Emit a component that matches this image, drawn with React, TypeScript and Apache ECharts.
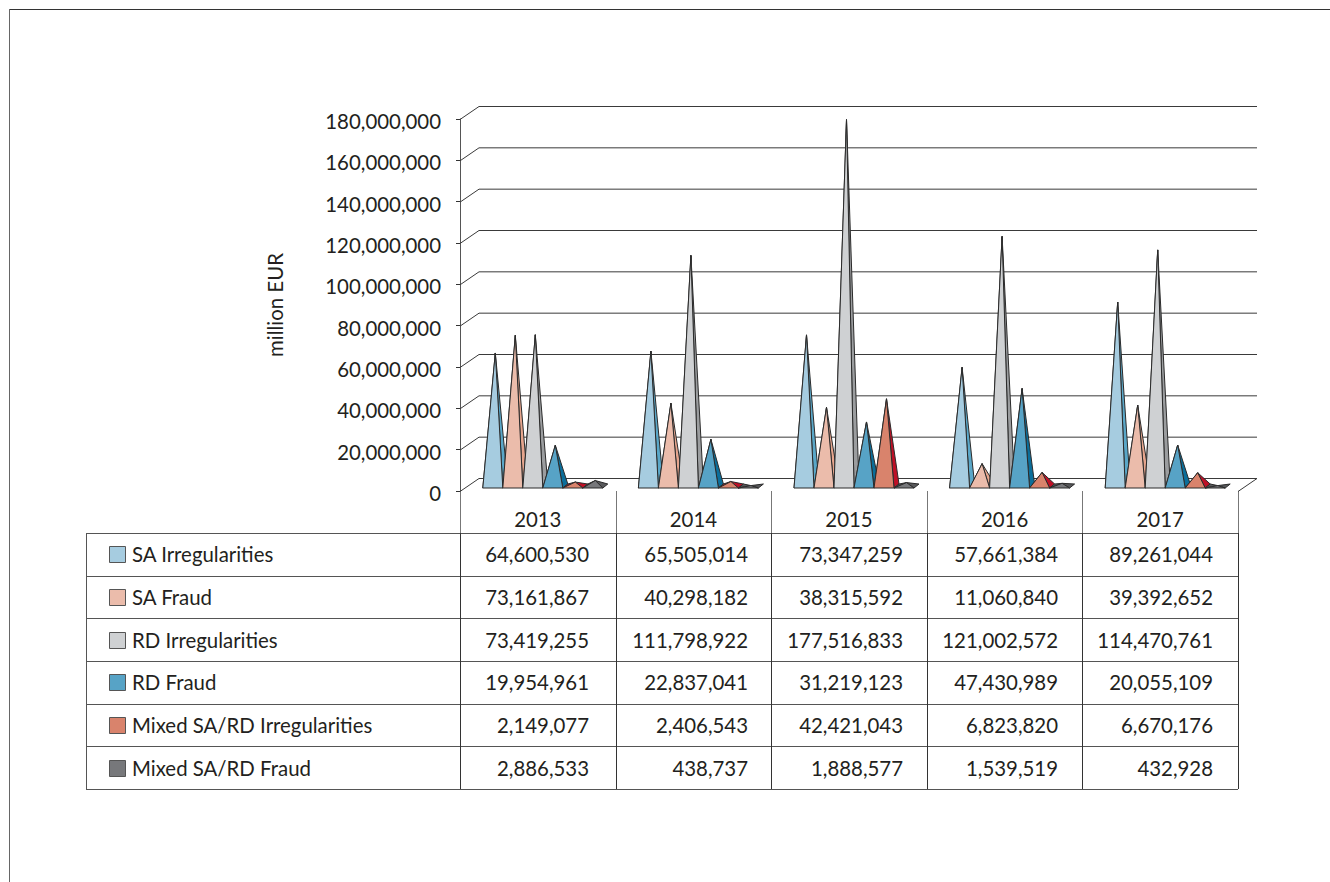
import React, { useEffect, useRef } from "react";
import * as echarts from "echarts";

const years = ["2013", "2014", "2015", "2016", "2017"];
const seriesNames = [
  "SA Irregularities",
  "SA Fraud",
  "RD Irregularities",
  "RD Fraud",
  "Mixed SA/RD Irregularities",
  "Mixed SA/RD Fraud",
];
const saIrregularities = [64600530, 65505014, 73347259, 57661384, 89261044];
const saFraud = [73161867, 40298182, 38315592, 11060840, 39392652];
const rdIrregularities = [73419255, 111798922, 177516833, 121002572, 114470761];
const rdFraud = [19954961, 22837041, 31219123, 47430989, 20055109];
const mixedIrregularities = [2149077, 2406543, 42421043, 6823820, 6670176];
const mixedFraud = [2886533, 438737, 1888577, 1539519, 432928];
const seriesValues = [
  saIrregularities,
  saFraud,
  rdIrregularities,
  rdFraud,
  mixedIrregularities,
  mixedFraud,
];
const axisTicks = [0, 20e6, 40e6, 60e6, 80e6, 100e6, 120e6, 140e6, 160e6, 180e6];

const frontColors = ["#A6CCE0", "#EBBCAB", "#CFD1D3", "#57A3C6", "#D9836C", "#77787B"];
const sideColors = ["#5AA7C8", "#E6A58D", "#9B9D9F", "#0B6E9A", "#BE1026", "#58595B"];

// Plot frame and the oblique depth of the walls, in pixels.
const plotLeft = 460;
const plotRight = 1238;
const plotTop = 119;
const plotBottom = 491;
const wallDx = 19;
const wallDy = 13;

// Data table below the plot.
const tableLeft = 86;
const tableBottom = 789;
const headerBottom = 533;
const rowHeight = (tableBottom - headerBottom) / seriesNames.length;
const colWidth = (plotRight - plotLeft) / years.length;
const valueRightEdges = [589, 748, 903, 1058, 1213];

const TEXT = "#231F20";
const FONT_SIZE = 20.4;
const FONT = `${FONT_SIZE}px Lato`;
const fmt = (v: number) => v.toLocaleString("en-US");

function tableGraphics() {
  const els: any[] = [];
  const line = (x1: number, y1: number, x2: number, y2: number, stroke: string) =>
    els.push({
      type: "line",
      silent: true,
      shape: { x1, y1, x2, y2 },
      style: { stroke, lineWidth: 1 },
    });

  // Outer frame: top and left edges only.
  line(9.5, 9.5, 1330, 9.5, "#333333");
  line(9.5, 9, 9.5, 882, "#666666");

  for (let r = 0; r <= seriesNames.length; r++) {
    const y = Math.round(headerBottom + r * rowHeight) + 0.5;
    line(tableLeft, y, plotRight, y, "#555555");
  }
  line(tableLeft + 0.5, headerBottom, tableLeft + 0.5, tableBottom, "#555555");
  for (let c = 0; c <= years.length; c++) {
    const x = Math.round(plotLeft + c * colWidth) + 0.5;
    line(x, plotBottom, x, headerBottom, "#777777");
    line(x, headerBottom, x, tableBottom, "#333333");
  }

  seriesNames.forEach((name, r) => {
    const cy = headerBottom + (r + 0.5) * rowHeight;
    els.push({
      type: "rect",
      silent: true,
      shape: { x: 109.5, y: Math.round(cy) - 7.5, width: 16, height: 16 },
      style: { fill: frontColors[r], stroke: "#555555", lineWidth: 1 },
    });
    els.push({
      type: "text",
      silent: true,
      style: {
        text: name,
        x: 132,
        y: cy,
        font: FONT,
        fill: TEXT,
        align: "left",
        verticalAlign: "middle",
      },
    });
    seriesValues[r].forEach((v, c) => {
      els.push({
        type: "text",
        silent: true,
        style: {
          text: fmt(v),
          x: valueRightEdges[c],
          y: cy,
          font: FONT,
          fill: TEXT,
          align: "right",
          verticalAlign: "middle",
        },
      });
    });
  });
  return els;
}

// Gridlines bent across the side wall and running along the back wall.
function renderWallLine(_params: any, api: any) {
  const value = api.value(0);
  const [x0, y] = api.coord([0, value]);
  const left = x0 - colWidth / 2;
  const children: any[] = [
    {
      type: "polyline",
      shape: {
        points: [
          [left, y + 0.5],
          [left + wallDx, y - wallDy + 0.5],
          [left + (plotRight - plotLeft) + wallDx, y - wallDy + 0.5],
        ],
      },
      style: { fill: "none", stroke: "#3A3A3A", lineWidth: 1 },
    },
  ];
  if (value === 0) {
    children.push({
      type: "line",
      shape: {
        x1: plotRight,
        y1: y + 0.5,
        x2: plotRight + wallDx,
        y2: y - wallDy + 0.5,
      },
      style: { stroke: "#3A3A3A", lineWidth: 1 },
    });
  }
  return { type: "group", silent: true, children };
}

// One pyramid per value: hidden left face, lit right face, front face.
function renderPyramid(seriesIndex: number) {
  return (_params: any, api: any) => {
    const idx = api.value(0);
    const val = api.value(1);
    const [cx, zeroY] = api.coord([idx, 0]);
    const apexY = api.coord([idx, val])[1] - 4.5;
    const w = 20;
    const depthX = 5;
    const depthY = 4;
    const xl = cx + depthX - 3 * w + seriesIndex * w;
    const xr = xl + w;
    const yf = zeroY - 3;
    const yb = yf - depthY;
    const apex = [(xl + xr) / 2 + depthX / 2, apexY];
    const stroke = { stroke: "#2B2B2B", lineWidth: 1, lineJoin: "round" };
    const face = (points: number[][], fill: string) => ({
      type: "polygon",
      shape: { points },
      style: { fill, ...stroke },
    });
    return {
      type: "group",
      silent: true,
      children: [
        face([[xl, yf], [xl + depthX, yb], apex], sideColors[seriesIndex]),
        face([[xr, yf], [xr + depthX, yb], apex], sideColors[seriesIndex]),
        face([[xl, yf], [xr, yf], apex], frontColors[seriesIndex]),
      ],
    };
  };
}

export default function App() {
  const ref = useRef<HTMLDivElement>(null);
  useEffect(() => {
    const chart = echarts.init(ref.current!, null, { renderer: "svg" });
    chart.setOption({
      animation: false,
      backgroundColor: "#FFFFFF",
      grid: {
        left: plotLeft,
        right: 1330 - plotRight,
        top: plotTop,
        bottom: 882 - plotBottom,
        containLabel: false,
      },
      xAxis: {
        type: "category",
        data: years,
        axisLine: { show: false },
        axisTick: { show: false },
        axisLabel: { color: TEXT, fontFamily: "Lato", fontSize: FONT_SIZE, margin: 18 },
        splitLine: { show: false },
      },
      yAxis: {
        type: "value",
        min: 0,
        max: 180e6,
        interval: 20e6,
        name: "million EUR",
        nameLocation: "middle",
        nameGap: 175,
        nameRotate: 90,
        nameTextStyle: { color: TEXT, fontFamily: "Lato", fontSize: FONT_SIZE },
        axisLine: { show: true, lineStyle: { color: "#555555", width: 1 } },
        axisTick: { show: true, length: 4, lineStyle: { color: "#333333", width: 1 } },
        axisLabel: {
          color: TEXT,
          fontFamily: "Lato",
          fontSize: FONT_SIZE,
          margin: 19,
          verticalAlign: "top",
          lineHeight: 4,
          formatter: (v: number) => fmt(v),
        },
        splitLine: { show: false },
      },
      graphic: { elements: tableGraphics() },
      series: [
        {
          type: "custom",
          name: "walls",
          data: axisTicks.map((t) => [t]),
          encode: { y: 0 },
          renderItem: renderWallLine,
          clip: false,
          silent: true,
          z: 1,
        },
        ...seriesNames.map((name, k) => ({
          type: "custom",
          name,
          data: seriesValues[k].map((v, i) => [i, v]),
          encode: { x: 0, y: 1 },
          renderItem: renderPyramid(k),
          clip: false,
          silent: true,
          z: 2 + k,
        })),
      ],
    });
    return () => chart.dispose();
  }, []);
  return (
    <div
      ref={ref}
      style={{ position: "fixed", left: 0, top: 0, width: 1330, height: 882, background: "#fff" }}
    />
  );
}
